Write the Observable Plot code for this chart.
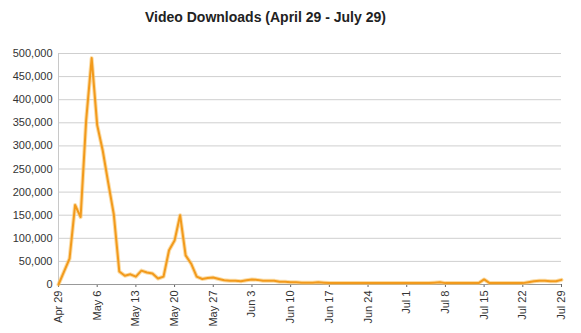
<!DOCTYPE html>
<html><head><meta charset="utf-8">
<script src="https://cdn.jsdelivr.net/npm/d3@7"></script>
<script src="https://cdn.jsdelivr.net/npm/@observablehq/plot@0.6"></script>
<style>
body{margin:0;background:#fff;font-family:"Liberation Sans",Arial,sans-serif;}
#wrap{width:581px;position:relative}
#title{height:36px;box-sizing:border-box;padding-top:9px;padding-left:145px;font-weight:bold;font-size:14px;line-height:16px;color:#222;white-space:nowrap}
</style></head><body>
<div id="wrap"><div id="title">Video Downloads (April 29 - July 29)</div><div id="chart"></div></div>
<script>
const startDate = "2012-04-29";
const endDate = "2012-07-29";
// daily downloads, Apr 29 .. Jul 29
const downloads = [
  0, 28000, 56000, 172000, 146000, 355000, 490000, 345000, 290000, 220000,
  152000, 28000, 19000, 22000, 17000, 30000, 26000, 24000, 13000, 17000,
  74000, 95000, 150000, 63000, 45000, 17000, 12000, 14000, 15000, 12000,
  9000, 8000, 8000, 7000, 9000, 11000, 10000, 8000, 8000, 8000,
  6000, 6000, 5000, 5000, 4000, 4000, 4000, 5000, 4000, 3000,
  3000, 3000, 3000, 3000, 3000, 3000, 3000, 3000, 3000, 3000,
  3000, 3000, 3000, 3000, 3000, 3000, 3000, 3000, 4000, 5000,
  3000, 3000, 3000, 3000, 3000, 3000, 3000, 11000, 3000, 3000,
  3000, 3000, 3000, 3000, 3000, 5000, 7000, 8000, 8000, 7000,
  7000, 10000
];
const tickLabels = ["Apr 29","May 6","May 13","May 20","May 27","Jun 3","Jun 10","Jun 17","Jun 24","Jul 1","Jul 8","Jul 15","Jul 22","Jul 29"];
const yTicks = [0,50000,100000,150000,200000,250000,300000,350000,400000,450000,500000];

const DAY = 86400000;
const d0 = new Date(startDate + "T00:00:00Z");
const dEnd = new Date(endDate + "T00:00:00Z");
const data = downloads.map((v, i) => ({date: new Date(+d0 + i * DAY), value: v}));
const tickDates = tickLabels.map((_, i) => new Date(+d0 + i * 7 * DAY));
const labelMap = new Map(tickDates.map((d, i) => [+d, tickLabels[i]]));

const chart = Plot.plot({
  width: 581, height: 297,
  marginTop: 17, marginBottom: 49, marginLeft: 58, marginRight: 20,
  style: {fontFamily: "'Liberation Sans', Arial, sans-serif", fontSize: "11px", color: "#333", background: "white"},
  x: {type: "utc", domain: [d0, dEnd]},
  y: {domain: [0, 500000]},
  marks: [
    Plot.gridY(yTicks, {stroke: "#cfcfcf", strokeOpacity: 1}),
    Plot.ruleX([d0], {stroke: "#c8c8c8"}),
    Plot.axisY(yTicks, {tickSize: 0, tickPadding: 6, tickFormat: d3.format(","), label: null, fontSize: 11}),
    Plot.axisX(tickDates, {tickRotate: -90, tickSize: 3, tickPadding: 3, stroke: "#666", tickFormat: d => labelMap.get(+d), label: null, fontSize: 11}),
    Plot.ruleY([0], {stroke: "#999"}),
    Plot.line(data, {x: "date", y: "value", stroke: "#f8c46a", strokeWidth: 4, strokeOpacity: 0.6}),
    Plot.line(data, {x: "date", y: "value", stroke: "#f29a1c", strokeWidth: 2})
  ]
});
document.getElementById("chart").append(chart);
</script>
</body></html>
